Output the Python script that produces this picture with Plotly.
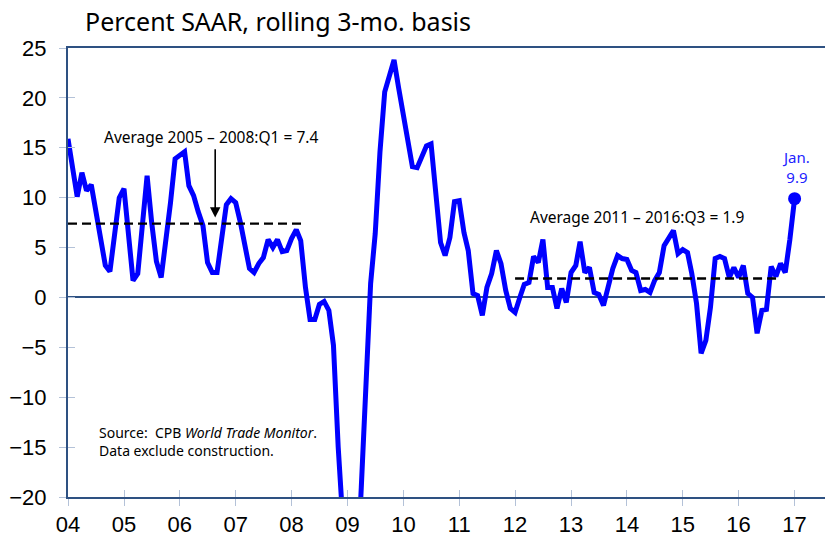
import pandas as pd
import plotly.graph_objects as go

# Monthly world trade growth, percent SAAR (rolling 3-mo.), Jan 2004 - Jan 2017
start_month = "2004-01-01"
values = [
    15.9, 12.8, 10.1, 12.5, 10.7, 11.3, 8.6, 5.9, 3.2, 2.6, 6.5, 10.0,      # 2004
    10.9, 6.2, 1.7, 2.4, 7.3, 12.2, 7.5, 3.6, 2.0, 5.5, 9.5, 13.9,         # 2005
    14.2, 14.6, 11.2, 10.2, 8.6, 7.2, 3.5, 2.5, 2.5, 6.0, 9.3, 9.9,        # 2006
    9.5, 7.5, 5.2, 2.9, 2.5, 3.4, 4.0, 5.8, 5.0, 5.8, 4.6, 4.7,            # 2007
    5.9, 6.8, 5.7, 1.0, -2.2, -2.2, -0.7, -0.4, -1.3, -4.8, -15.0, -25.0,  # 2008
    -30.0, -31.0, -29.0, -19.0, -9.0, 1.4, 6.4, 14.6, 20.6, 22.2, 23.8, 21.0,  # 2009
    18.5, 15.6, 13.1, 13.0, 14.2, 15.2, 15.4, 10.7, 5.5, 4.2, 6.0, 9.6,    # 2010
    9.7, 6.5, 4.7, 0.4, 0.2, -1.8, 1.0, 2.4, 4.7, 3.4, 0.7, -1.1,          # 2011
    -1.5, 0.0, 1.3, 1.5, 4.1, 3.5, 5.8, 1.0, 1.0, -1.1, 0.9, -0.5,         # 2012
    2.5, 3.2, 5.6, 2.5, 3.0, 0.5, 0.3, -0.8, 1.2, 2.9, 4.2, 3.9,           # 2013
    3.8, 2.7, 2.5, 0.7, 0.8, 0.5, 1.7, 2.5, 5.2, 5.9, 6.7, 4.4,            # 2014
    4.8, 4.5, 2.4, -0.6, -5.6, -4.3, -1.0, 3.9, 4.1, 3.9, 2.0, 3.0,        # 2015
    2.0, 3.2, 0.4, 0.0, -3.6, -1.3, -1.2, 3.1, 2.1, 3.4, 2.5, 5.8,         # 2016
    9.9,                                                                    # 2017 Jan
]
months = pd.date_range(start_month, periods=len(values), freq="MS")

avg1_value = 7.4
avg1_span = ["2004-01-01", "2008-03-05"]
avg1_label = "Average 2005 \u2013 2008:Q1 = 7.4"
avg2_value = 1.9
avg2_span = ["2012-01-01", "2016-09-15"]
avg2_label = "Average 2011 \u2013 2016:Q3 = 1.9"

tick_years = list(range(2004, 2018))
tick_labels = [f"{y % 100:02d}" for y in tick_years]
y_ticks = [25, 20, 15, 10, 5, 0, -5, -10, -15, -20]
x_range = ["2004-01-01", "2017-09-09"]
y_range = [-20, 25]

title_text = "Percent SAAR, rolling 3-mo. basis"
last_label = "Jan.<br>9.9"
source_text = "Source:  CPB <i>World Trade Monitor</i>.<br>Data exclude construction."

AXIS = "#2E5182"
TICK = "#B4C2D8"
BLUE = "#0000FF"
TXT_FONT = "Noto Sans, Open Sans, sans-serif"
NUM_FONT = "Liberation Sans, Arial, sans-serif"
DASH = "9px,5px"

fig = go.Figure()
fig.add_trace(go.Scatter(x=months, y=values, mode="lines",
                         line=dict(color=BLUE, width=5), hoverinfo="skip"))
fig.add_trace(go.Scatter(x=avg1_span, y=[avg1_value, avg1_value], mode="lines",
                         line=dict(color="black", width=2.3, dash=DASH)))
fig.add_trace(go.Scatter(x=avg2_span, y=[avg2_value, avg2_value], mode="lines",
                         line=dict(color="black", width=2.3, dash=DASH)))
fig.add_trace(go.Scatter(x=[months[-1]], y=[values[-1]], mode="markers",
                         marker=dict(color=BLUE, size=13), cliponaxis=False))
# invisible helper trace for the overlay axes that draw the inner half of the ticks
fig.add_trace(go.Scatter(x=[months[0]], y=[values[0]], mode="markers",
                         marker=dict(opacity=0), xaxis="x2", yaxis="y2",
                         hoverinfo="skip"))

fig.add_annotation(x="2006-07-25", y=16.1, text=avg1_label, showarrow=False,
                   xanchor="center", yanchor="middle",
                   font=dict(family=TXT_FONT, size=15.5, color="black"))
fig.add_annotation(x="2006-08-20", y=8.0, ax="2006-08-20", ay=15.0,
                   axref="x", ayref="y", text="", showarrow=True,
                   arrowhead=2, arrowsize=1.3, arrowwidth=1.6, arrowcolor="black")
fig.add_annotation(x="2014-03-10", y=8.05, text=avg2_label, showarrow=False,
                   xanchor="center", yanchor="middle",
                   font=dict(family=TXT_FONT, size=15.5, color="black"))
fig.add_annotation(x="2017-01-10", y=13.1, text=last_label, showarrow=False,
                   xanchor="center", yanchor="middle",
                   font=dict(family=TXT_FONT, size=15, color="#2222FF"))
fig.add_annotation(x="2004-07-10", y=-14.45, text=source_text, showarrow=False,
                   xanchor="left", yanchor="middle", align="left",
                   font=dict(family=TXT_FONT, size=14, color="black"))

tick_x = [f"{y}-01-01" for y in tick_years]
fig.update_layout(
    width=833, height=539,
    margin=dict(l=60, r=8, t=40, b=50),
    paper_bgcolor="white", plot_bgcolor="white",
    showlegend=False,
    title=dict(text=title_text, xref="container", yref="container",
               x=77 / 833, xanchor="left", y=1 - 14 / 539, yanchor="middle",
               font=dict(family=TXT_FONT, size=25, color="black")),
    xaxis=dict(type="date", range=x_range, tickvals=tick_x, ticktext=tick_labels,
               showgrid=False, zeroline=False, automargin=False,
               showline=True, linecolor=AXIS, linewidth=2, mirror=True,
               ticks="outside", ticklen=7, tickcolor=TICK, tickwidth=1,
               ticklabelstandoff=0,
               tickfont=dict(family=NUM_FONT, size=22, color="black")),
    yaxis=dict(range=y_range, tickvals=y_ticks,
               showgrid=False, zeroline=True, zerolinecolor=AXIS, zerolinewidth=2,
               automargin=False,
               showline=True, linecolor=AXIS, linewidth=2,
               ticks="outside", ticklen=7, tickcolor=TICK, tickwidth=1,
               ticklabelstandoff=8,
               tickfont=dict(family=NUM_FONT, size=22, color="black")),
    xaxis2=dict(type="date", range=x_range, tickvals=tick_x, overlaying="x",
                anchor="y", side="bottom", showticklabels=False, showgrid=False,
                zeroline=False, showline=False, automargin=False,
                ticks="inside", ticklen=7, tickcolor=TICK, tickwidth=1),
    yaxis2=dict(range=y_range, tickvals=y_ticks, overlaying="y",
                anchor="x", side="left", showticklabels=False, showgrid=False,
                zeroline=False, showline=False, automargin=False,
                ticks="inside", ticklen=7, tickcolor=TICK, tickwidth=1),
)

fig.write_html("out.html")
